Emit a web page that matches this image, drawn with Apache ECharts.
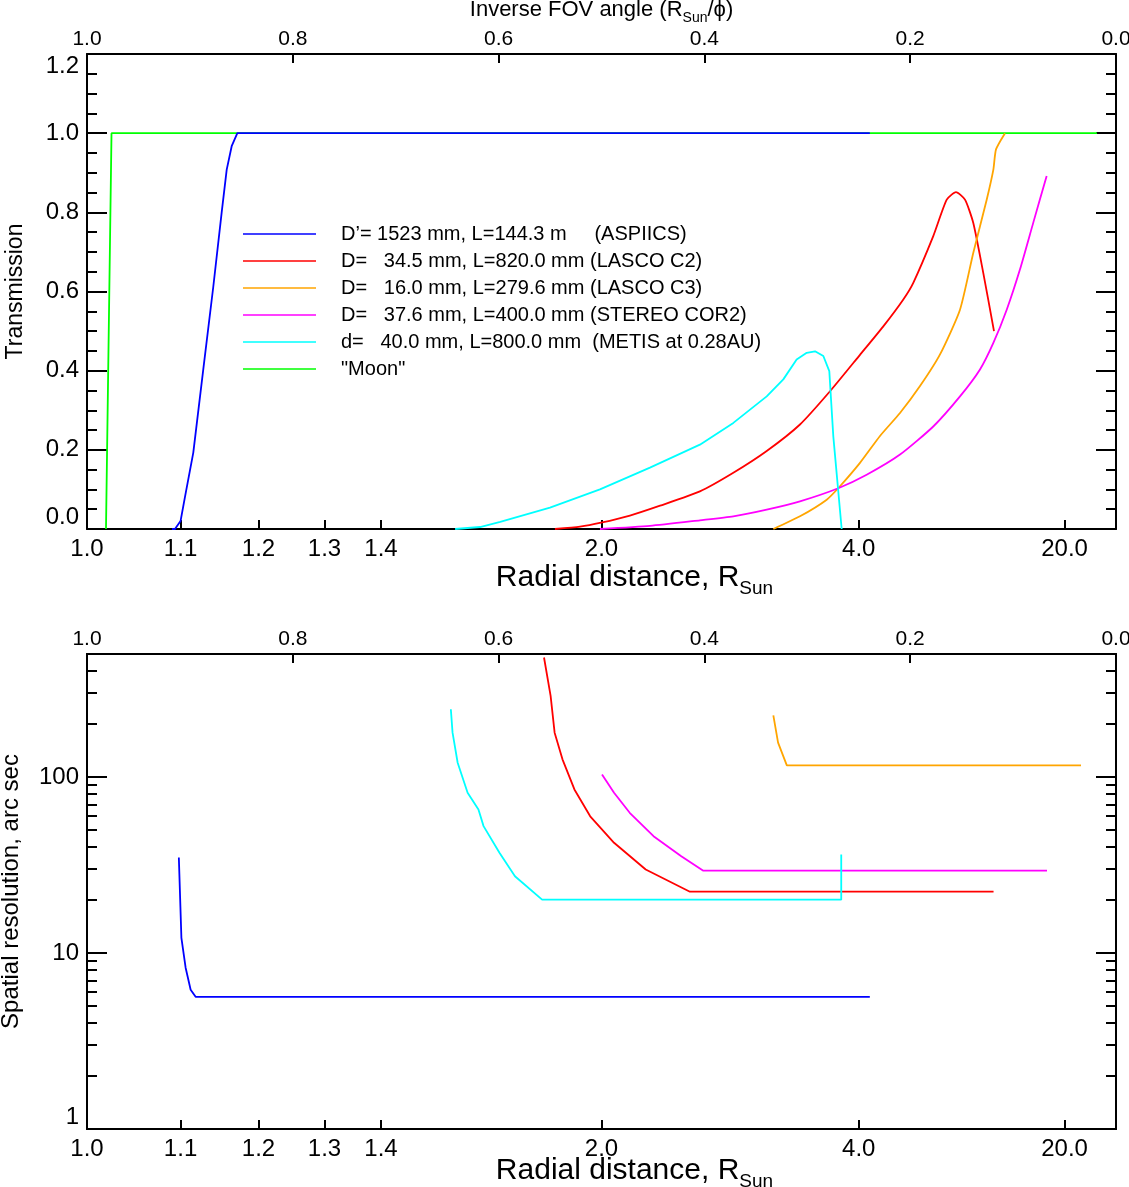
<!DOCTYPE html>
<html>
<head>
<meta charset="utf-8">
<script src="https://cdn.jsdelivr.net/npm/echarts@6/dist/echarts.min.js"></script>
<style>
  html, body { margin: 0; background: #fff; }
  #main { width: 1129px; height: 1187px; }
</style>
</head>
<body>
<div id="main"></div>
<script>
// legend / series names
var names = [
  'D\u2019= 1523 mm, L=144.3 m     (ASPIICS)',
  'D=   34.5 mm, L=820.0 mm (LASCO C2)',
  'D=   16.0 mm, L=279.6 mm (LASCO C3)',
  'D=   37.6 mm, L=400.0 mm (STEREO COR2)',
  'd=   40.0 mm, L=800.0 mm  (METIS at 0.28AU)',
  '"Moon"'
];
var colors = ['#0000ff', '#ff0000', '#ffa500', '#ff00ff', '#00ffff', '#00ff00'];

// tick labels
var radialTicks = [1.0, 1.1, 1.2, 1.3, 1.4, 2.0, 4.0, 20.0];
var resMajor = [1, 10, 100];
var resMinor = [2, 3, 4, 5, 6, 7, 8, 9, 20, 30, 40, 50, 60, 70, 80, 90, 200, 300, 400, 500];

// top panel: transmission vs radial distance (R_Sun)
var moonR = [1.0188, 1.0244, 54.2];
var moonT = [0, 1, 1];
var aspiicsR = [1.09, 1.0935, 1.100, 1.1053, 1.1152, 1.1274, 1.1399, 1.1506, 1.1571, 1.1636, 1.1711, 4.18];
var aspiicsT = [0, 0, 0.02, 0.082, 0.193, 0.403, 0.612, 0.800, 0.908, 0.967, 1.0, 1.0];
var c2R = [1.834, 1.920, 1.998, 2.117, 2.257, 2.473, 2.689, 2.946, 3.256, 3.598, 4.019, 4.422, 4.838, 5.076, 5.631, 6.079, 6.431, 6.815, 7.211, 7.752, 8.434];
var c2T = [0, 0.006, 0.016, 0.034, 0.059, 0.095, 0.142, 0.197, 0.264, 0.348, 0.440, 0.512, 0.580, 0.622, 0.740, 0.832, 0.851, 0.832, 0.773, 0.647, 0.500];
var c3R = [3.003, 3.256, 3.557, 3.728, 4.019, 4.360, 4.764, 5.250, 5.847, 6.596, 7.211, 7.958, 8.390, 8.576, 9.270];
var c3T = [0, 0.032, 0.074, 0.108, 0.167, 0.235, 0.293, 0.361, 0.441, 0.554, 0.698, 0.832, 0.908, 0.959, 1.0];
var cor2R = [1.994, 2.208, 2.473, 2.689, 2.946, 3.256, 3.705, 4.127, 4.764, 5.631, 6.596, 7.566, 8.390, 9.416, 10.72, 12.44, 14.84];
var cor2T = [0, 0.008, 0.022, 0.032, 0.049, 0.070, 0.103, 0.137, 0.188, 0.259, 0.335, 0.403, 0.470, 0.554, 0.656, 0.774, 0.892];
var metisR = [1.557, 1.618, 1.671, 1.818, 1.994, 2.208, 2.473, 2.689, 2.946, 3.093, 3.222, 3.327, 3.419, 3.516, 3.589, 3.640, 3.751];
var metisT = [0, 0.005, 0.018, 0.054, 0.100, 0.155, 0.213, 0.268, 0.335, 0.378, 0.428, 0.445, 0.449, 0.437, 0.399, 0.234, 0];

// bottom panel: spatial resolution (arc sec) vs radial distance
var aspiicsResR = [1.098, 1.101, 1.106, 1.112, 1.118, 4.18];
var aspiicsRes = [34.9, 12.2, 8.25, 6.18, 5.64, 5.64];
var c2ResR = [1.799, 1.820, 1.833, 1.859, 1.900, 1.957, 2.050, 2.188, 2.415, 8.404];
var c2Res = [477.6, 288.9, 178.7, 126.0, 85.0, 59.8, 42.3, 29.8, 22.3, 22.3];
var c3ResR = [3.003, 3.045, 3.126, 29.4];
var c3Res = [224.2, 156.8, 116.5, 116.5];
var cor2ResR = [2.002, 2.050, 2.116, 2.225, 2.367, 2.491, 14.91];
var cor2Res = [103.5, 81.4, 62.6, 46.1, 35.5, 29.4, 29.4];
var metisResR = [1.547, 1.551, 1.563, 1.587, 1.614, 1.627, 1.669, 1.712, 1.793, 3.745, 3.745];
var metisRes = [242.6, 178.7, 120.5, 81.4, 65.4, 52.6, 37.1, 27.3, 20.1, 20.1, 36.3];

var FONT = 'Liberation Sans';
var axisLine = { show: true, onZero: false, lineStyle: { color: '#000', width: 2 } };
var tickStyle = { color: '#000', width: 2 };
var noSplit = { show: false };

function radialName(gap) {
  return {
    name: 'Radial distance, R{sub|Sun}',
    nameLocation: 'middle',
    nameGap: gap,
    nameMoveOverlap: false,
    nameTextStyle: {
      fontSize: 30, fontFamily: FONT, color: '#000', lineHeight: 40,
      padding: [0, 0, 0, 66],
      rich: { sub: { fontSize: 19, fontFamily: FONT, color: '#000', lineHeight: 19, verticalAlign: 'bottom' } }
    }
  };
}

function bottomX(g, gap) {
  return Object.assign({
    gridIndex: g, type: 'value', position: 'bottom', min: 0, max: 1, inverse: true,
    axisLine: axisLine, splitLine: noSplit,
    axisTick: { inside: true, length: 9, lineStyle: tickStyle,
      customValues: radialTicks.slice(1).map(function (r) { return 1 / r; }) },
    axisLabel: { customValues: radialTicks.map(function (r) { return 1 / r; }),
      formatter: function (v) { return (1 / v).toFixed(1); },
      fontSize: 24, fontFamily: FONT, color: '#000', margin: 8 }
  }, radialName(gap));
}

function topX(g, withName) {
  var ax = {
    gridIndex: g, type: 'value', position: 'top', min: 0, max: 1, interval: 0.2, inverse: true,
    axisLine: axisLine, splitLine: noSplit,
    axisTick: { inside: true, length: 9, lineStyle: tickStyle },
    axisLabel: { formatter: function (v) { return v.toFixed(1); },
      fontSize: 21, fontFamily: FONT, color: '#000', margin: 4 }
  };
  if (withName) {
    ax.name = 'Inverse FOV angle (R{sub|Sun}/\u03d5)';
    ax.nameLocation = 'middle';
    ax.nameGap = 29;
    ax.nameTextStyle = {
      fontSize: 22, fontFamily: FONT, color: '#000', lineHeight: 30,
      rich: { sub: { fontSize: 14, fontFamily: FONT, color: '#000', lineHeight: 14, verticalAlign: 'bottom' } }
    };
  }
  return ax;
}

function transY(pos) {
  var ax = {
    gridIndex: 0, type: 'value', position: pos, min: 0, max: 1.2, interval: 0.2,
    axisLine: axisLine, splitLine: noSplit,
    axisTick: { inside: true, length: 20, lineStyle: tickStyle },
    minorTick: { show: true, splitNumber: 4, length: 10, lineStyle: tickStyle },
    axisLabel: { show: pos === 'left', formatter: function (v) { return v.toFixed(1); },
      verticalAlignMinLabel: 'bottom', verticalAlignMaxLabel: 'top',
      fontSize: 24, fontFamily: FONT, color: '#000', margin: 8 }
  };
  if (pos === 'left') {
    ax.name = 'Transmission';
    ax.nameLocation = 'middle';
    ax.nameRotate = 90;
    ax.nameGap = 60;
    ax.nameTextStyle = { fontSize: 23, fontFamily: FONT, color: '#000' };
  }
  return ax;
}

function resY(pos, major) {
  var ax = {
    gridIndex: 1, type: 'log', logBase: 10, position: pos, min: 1, max: 500,
    axisLine: axisLine, splitLine: noSplit,
    axisTick: { inside: true, length: major ? 20 : 10, lineStyle: tickStyle,
      customValues: major ? resMajor : resMinor },
    axisLabel: { show: major && pos === 'left', customValues: resMajor,
      verticalAlignMinLabel: 'bottom',
      fontSize: 24, fontFamily: FONT, color: '#000', margin: 8 }
  };
  if (major && pos === 'left') {
    ax.name = 'Spatial resolution, arc sec';
    ax.nameLocation = 'middle';
    ax.nameRotate = 90;
    ax.nameGap = 64;
    ax.nameTextStyle = { fontSize: 24, fontFamily: FONT, color: '#000' };
  }
  return ax;
}

function mk(idx, R, V, xi, yi, smooth) {
  return {
    name: names[idx], type: 'line', xAxisIndex: xi, yAxisIndex: yi,
    data: R.map(function (r, i) { return [1 / r, V[i]]; }),
    showSymbol: false, symbol: 'none', color: colors[idx],
    smooth: smooth || false,
    lineStyle: { width: 1.8, color: colors[idx] }
  };
}

var myChart = echarts.init(document.getElementById('main'));
myChart.setOption({
  animation: false,
  backgroundColor: '#fff',
  grid: [
    { left: 87, top: 54, width: 1029, height: 475, containLabel: false, outerBoundsMode: 'none' },
    { left: 87, top: 654, width: 1029, height: 475, containLabel: false, outerBoundsMode: 'none' }
  ],
  xAxis: [bottomX(0, 29), topX(0, true), bottomX(1, 22), topX(1, false)],
  yAxis: [transY('left'), transY('right'),
    resY('left', true), resY('left', false), resY('right', true), resY('right', false)],
  legend: {
    data: names, orient: 'vertical', left: 238, top: 219,
    icon: 'rect', itemWidth: 73, itemHeight: 1.5, itemGap: 7, selectedMode: false,
    textStyle: { fontSize: 20, fontFamily: FONT, color: '#000', lineHeight: 20, padding: [0, 0, 0, 20] }
  },
  series: [
    mk(5, moonR, moonT, 0, 0),
    mk(0, aspiicsR, aspiicsT, 0, 0),
    mk(1, c2R, c2T, 0, 0, 0.2),
    mk(2, c3R, c3T, 0, 0, 0.2),
    mk(3, cor2R, cor2T, 0, 0, 0.2),
    mk(4, metisR, metisT, 0, 0),
    mk(0, aspiicsResR, aspiicsRes, 2, 2),
    mk(1, c2ResR, c2Res, 2, 2),
    mk(2, c3ResR, c3Res, 2, 2),
    mk(3, cor2ResR, cor2Res, 2, 2),
    mk(4, metisResR, metisRes, 2, 2)
  ]
});
</script>
</body>
</html>
